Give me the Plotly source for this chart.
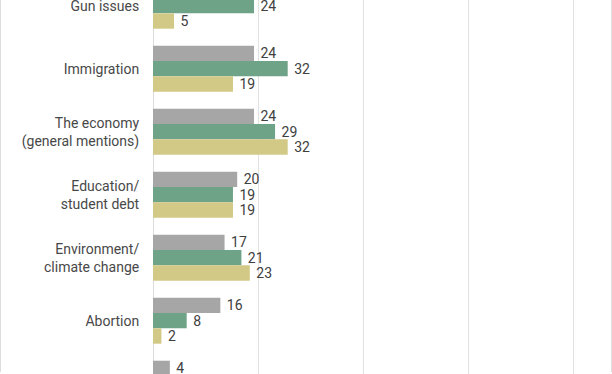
import plotly.graph_objects as go

categories = ["Gun issues", "Immigration", "The economy<br>(general mentions)",
              "Education/<br>student debt", "Environment/<br>climate change",
              "Abortion", ""]
series_names = ["Series A", "Series B", "Series C"]
gray_vals = [None, 24, 24, 20, 17, 16, 4]
green_vals = [24, 32, 29, 19, 21, 8, None]
yellow_vals = [5, 19, 32, 19, 23, 2, None]
colors = ["#a6a6a6", "#6fa387", "#d3c986"]

positions = list(range(len(categories)))

fig = go.Figure()
for name, vals, col in zip(series_names, [gray_vals, green_vals, yellow_vals], colors):
    fig.add_trace(go.Bar(
        y=positions, x=vals, orientation="h", name=name,
        marker=dict(color=col, line=dict(width=0)),
        text=[("" if v is None else str(v)) for v in vals],
        texttemplate=" %{text}",
        textposition="outside", constraintext="none", cliponaxis=False,
        textfont=dict(family="Roboto", size=14, color="#404040"),
        hoverinfo="skip",
    ))

XMAX = 100.25
L = 153
W = 421 * XMAX / 100
R = 612 - L - W
fig.update_layout(
    width=612, height=374,
    margin=dict(l=L, r=R, t=0, b=0, pad=0, autoexpand=False),
    barmode="group", bargap=0.27, bargroupgap=0,
    showlegend=False,
    plot_bgcolor="white", paper_bgcolor="white",
    font=dict(family="Roboto", size=14, color="#444444"),
    xaxis=dict(range=[0, XMAX], dtick=25, tick0=0, showgrid=True, gridcolor="#e2e2e2",
               gridwidth=1, zeroline=True, zerolinecolor="#dcdcdc", zerolinewidth=1,
               showticklabels=False, ticks="", fixedrange=True),
    yaxis=dict(range=[5.846, -0.0905], autorange=False, tickmode="array",
               tickvals=positions, ticktext=categories, showgrid=False, zeroline=False,
               ticks="outside", ticklen=10, tickcolor="rgba(0,0,0,0)",
               ticklabeloverflow="allow",
               tickfont=dict(family="Roboto", size=14, color="#484848")),
    shapes=[
        dict(type="line", xref="paper", yref="paper", x0=(0.5 - L) / W, x1=(0.5 - L) / W,
             y0=0.005, y1=1, line=dict(color="#dddddd", width=1)),
        dict(type="line", xref="paper", yref="paper", x0=(611.5 - L) / W, x1=(611.5 - L) / W,
             y0=0.005, y1=1, line=dict(color="#dddddd", width=1)),
    ],
)

fig.write_html("out.html", config={"displayModeBar": False},
               post_script="document.body.style.margin='0px';document.body.style.overflow='hidden';")
